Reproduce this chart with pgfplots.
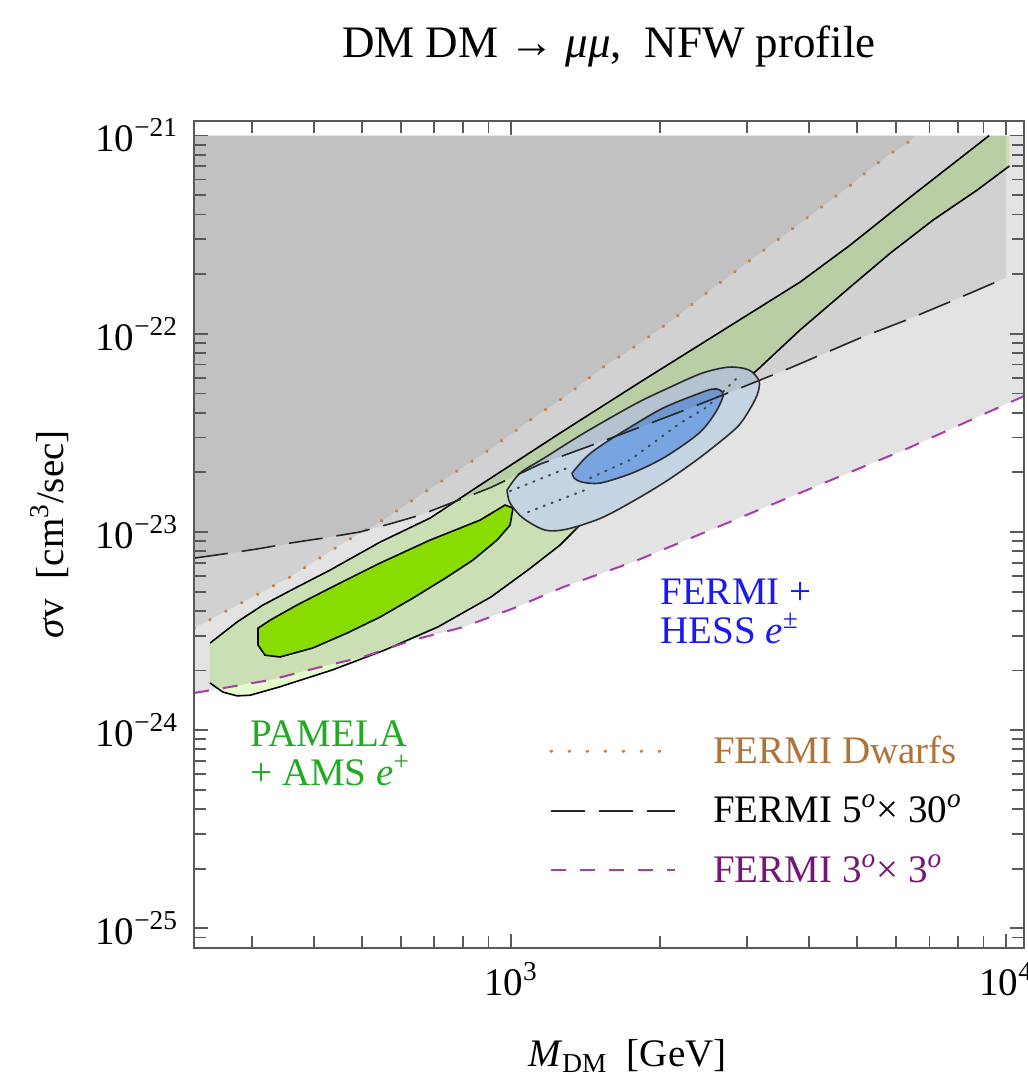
\documentclass[border=0pt]{standalone}
\usepackage{fontspec}
\setmainfont{Liberation Serif}
\usepackage{pgfplots}
\pgfplotsset{compat=1.18}
\definecolor{lgreen}{RGB}{228,252,203}
\definecolor{bgreen}{RGB}{153,248,0}
\definecolor{lblue}{RGB}{222,239,255}
\definecolor{dblue}{RGB}{135,185,253}
\definecolor{dwarf}{RGB}{200,130,70}
\definecolor{dwarftext}{RGB}{175,115,55}
\definecolor{purp}{RGB}{170,60,170}
\definecolor{purptext}{RGB}{120,20,120}
\definecolor{pamela}{RGB}{35,170,35}
\definecolor{hess}{RGB}{25,25,245}
\newcommand\lab{\fontsize{19.5}{19.5}\selectfont}
\begin{document}
\begin{tikzpicture}
\path[use as bounding box] (0,0) rectangle (514pt,539pt);
\node[anchor=base, font=\fontsize{22.5}{26}\selectfont] at (304.5pt,510pt) {DM DM → \textit{μμ},\ \ NFW profile};
\begin{axis}[
  at={(97pt,65pt)}, anchor=south west,
  scale only axis, width=415pt, height=413.65pt,
  xmode=log, ymode=log,
  xmin=228.9, xmax=10866, ymin=7.955e-26, ymax=1.188e-21,
  axis on top,
  xtick={1000,10000}, xticklabels={10\textsuperscript{3},10\textsuperscript{4}},
  minor xtick={300,400,500,600,700,800,900,2000,3000,4000,5000,6000,7000,8000,9000},
  ytick={1e-25,1e-24,1e-23,1e-22,1e-21},
  yticklabels={10\textsuperscript{−25},10\textsuperscript{−24},10\textsuperscript{−23},10\textsuperscript{−22},10\textsuperscript{−21}},
  minor ytick={8e-26,9e-26,2e-25,3e-25,4e-25,5e-25,6e-25,7e-25,8e-25,9e-25,2e-24,3e-24,4e-24,5e-24,6e-24,7e-24,8e-24,9e-24,2e-23,3e-23,4e-23,5e-23,6e-23,7e-23,8e-23,9e-23,2e-22,3e-22,4e-22,5e-22,6e-22,7e-22,8e-22,9e-22},
  tick align=inside,
  major tick length=7pt, minor tick length=6pt,
  every tick/.style={black!65, line width=0.9pt},
  axis line style={black!65, line width=1.2pt},
  ticklabel style={font=\lab},
  xticklabel style={yshift=-3.5pt},
  yticklabel style={xshift=-4.5pt},
  xlabel={\textit{M}\textsubscript{DM}\ \ [GeV]},
  ylabel={\textit{σ}v\ \ [cm\textsuperscript{3}/sec]},
  every axis x label/.style={at={(axis description cs:0.522,-0.130)}, anchor=center, font=\lab},
  every axis y label/.style={at={(axis description cs:-0.1735,0.5)}, rotate=90, anchor=center, font=\lab},
  legend style={at={(rel axis cs:0.4277,0.2575)}, anchor=north west, draw=none, fill=none,
    inner sep=0pt, row sep=11.75pt, font=\lab,
    nodes={inner sep=0pt, text height=14pt, text depth=4pt}},
  legend cell align=left,
  legend image code/.code={\draw[#1] (0pt,1pt) -- (62pt,1pt); \path (0pt,0pt) (80pt,0pt);},
]
% light green band (PAMELA + AMS, outer)
\addplot[fill=lgreen, draw=none, forget plot] coordinates {
(246.6,2.75e-24) (279.5,3.51e-24) (315.5,4.28e-24) (369.6,5.27e-24) (430.9,6.42e-24)
(543.8,8.89e-24) (686.2,1.175e-23) (865.8,1.724e-23) (1256,3.155e-23) (1822,5.70e-23)
(2644,1.02e-22) (3835,1.823e-22) (4840,2.80e-22) (6400,4.89e-22) (9240,1e-21)
(10150,1e-21) (10150,7.02e-22) (8738,5.31e-22) (7120,3.75e-22) (5832,2.55e-22)
(4840,1.72e-22) (3835,1.045e-22) (3141,6.56e-23) (2409,3.67e-23) (1910,2.25e-23)
(1513,1.368e-23) (1256,8.59e-24) (1082,6.43e-24) (911,4.70e-24) (712,3.32e-24)
(556.6,2.54e-24) (434.9,2.01e-24) (339.9,1.65e-24) (297,1.50e-24) (279.5,1.49e-24)
(261.9,1.556e-24) (246.6,1.73e-24)} -- cycle;
\addplot[black, line width=0.8pt, forget plot] coordinates {
(246.6,2.75e-24) (279.5,3.51e-24) (315.5,4.28e-24) (369.6,5.27e-24) (430.9,6.42e-24)
(543.8,8.89e-24) (686.2,1.175e-23) (865.8,1.724e-23) (1256,3.155e-23) (1822,5.70e-23)
(2644,1.02e-22) (3835,1.823e-22) (4840,2.80e-22) (6400,4.89e-22) (9240,1e-21)};
\addplot[black, line width=0.8pt, forget plot] coordinates {
(10150,7.02e-22) (8738,5.31e-22) (7120,3.75e-22) (5832,2.55e-22)
(4840,1.72e-22) (3835,1.045e-22) (3141,6.56e-23) (2409,3.67e-23) (1910,2.25e-23)
(1513,1.368e-23) (1256,8.59e-24) (1082,6.43e-24) (911,4.70e-24) (712,3.32e-24)
(556.6,2.54e-24) (434.9,2.01e-24) (339.9,1.65e-24) (297,1.50e-24) (279.5,1.49e-24)
(261.9,1.556e-24) (246.6,1.73e-24)};
% bright green (inner)
\addplot[fill=bgreen, draw=black, line width=0.8pt, forget plot] coordinates {
(308.3,3.27e-24) (326.1,3.59e-24) (369.6,4.28e-24) (430.9,5.21e-24) (543.8,6.97e-24)
(686.2,9.10e-24) (865.8,1.148e-23) (972.5,1.367e-23) (1009,1.32e-23) (995.4,1.083e-23)
(936.9,9.10e-24) (837.9,7.22e-24) (742.6,5.92e-24) (633.9,4.64e-24) (543.8,3.72e-24)
(466.5,3.09e-24) (398.1,2.60e-24) (341.5,2.34e-24) (318.4,2.39e-24) (308.3,2.69e-24)} -- cycle;
% FERMI + HESS outer ellipse
\addplot[fill=lblue, draw=black!80, line width=0.8pt, smooth, tension=0.5, forget plot] coordinates {
(981.5,1.627e-23) (1042.8,1.982e-23) (1166.3,2.36e-23) (1404,3.155e-23) (1780,4.42e-23)
(2076,5.32e-23) (2432,6.33e-23) (2757,6.79e-23) (3026,6.56e-23) (3170,5.77e-23)
(3141,4.91e-23) (3012,4.03e-23) (2848,3.34e-23) (2432,2.42e-23) (2076,1.83e-23)
(1780,1.449e-23) (1520,1.175e-23) (1298,1.034e-23) (1171.6,1.022e-23) (1057.3,1.175e-23)
(995.4,1.399e-23) (981.5,1.627e-23)};
% inner ellipse
\addplot[fill=dblue, draw=black!80, line width=0.8pt, smooth, tension=0.5, forget plot] coordinates {
(1328,1.982e-23) (1411,2.36e-23) (1513,2.71e-23) (1740,3.38e-23) (2028,4.22e-23)
(2376,4.96e-23) (2548,5.26e-23) (2644,5.20e-23) (2681,4.85e-23) (2583,3.98e-23)
(2398,3.155e-23) (2047,2.39e-23) (1756,1.982e-23) (1513,1.765e-23) (1391,1.786e-23)
(1341,1.87e-23) (1328,1.982e-23)};
% dotted lines inside ellipse
\addplot[black!70, line width=1pt, dash pattern=on 0.6pt off 3.6pt, line cap=round, forget plot] coordinates {(995,1.608e-23) (1298,2.10e-23)};
\addplot[black!70, line width=1pt, dash pattern=on 0.6pt off 3.6pt, line cap=round, forget plot] coordinates {(1082,1.26e-23) (1444,1.665e-23)};
\addplot[black!70, line width=1pt, dash pattern=on 0.6pt off 3.6pt, line cap=round, forget plot] coordinates {(1444,1.87e-23) (1740,2.31e-23) (2195,3.54e-23) (2489,4.27e-23) (2875,6.05e-23)};
% exclusion overlays
\addplot[fill=black, fill opacity=0.11, draw=none, forget plot] coordinates {
(229,1.54e-24) (326,1.79e-24) (411,2.08e-24) (502,2.34e-24) (634,2.85e-24) (800,3.31e-24)
(1014,4.13e-24) (1274,5.27e-24) (1782,7.13e-24) (3350,1.37e-23) (6280,2.62e-23) (10866,4.85e-23)
(10866,1e-21) (229,1e-21)} -- cycle;
\addplot[fill=black, fill opacity=0.08, draw=none, forget plot] coordinates {
(229,7.38e-24) (279.5,7.92e-24) (315.5,8.30e-24) (357.7,8.79e-24) (417,9.31e-24) (495.4,1.0e-23)
(577.6,1.11e-23) (655,1.216e-23) (907,1.67e-23) (1144.5,2.20e-23) (1444,2.72e-23) (1822,3.38e-23)
(2299,4.22e-23) (2901,5.32e-23) (3661,6.72e-23) (5119,9.62e-23) (6281,1.172e-22) (7600,1.43e-22)
(10000,1.92e-22) (10000,1e-21) (229,1e-21)} -- cycle;
\addplot[fill=black, fill opacity=0.08, draw=none, forget plot] coordinates {
(229,3.27e-24) (297,4.63e-24) (357.7,5.92e-24) (457.6,8.79e-24) (551.2,1.148e-23) (655.1,1.535e-23)
(778,2.03e-23) (919.5,2.68e-23) (1093,3.67e-23) (1297.5,4.91e-23) (1534.6,6.79e-23) (1822,8.97e-23)
(2154,1.213e-22) (2523,1.66e-22) (3495,3.04e-22) (4909,5.75e-22) (5313,6.78e-22) (5776,7.98e-22)
(6310,9.16e-22) (6549,1e-21) (229,1e-21)} -- cycle;
% limit lines
\addplot[dwarf, line width=1.9pt, dash pattern=on 0.01pt off 9pt, line cap=round] coordinates {
(229,3.27e-24) (297,4.63e-24) (357.7,5.92e-24) (457.6,8.79e-24) (551.2,1.148e-23) (655.1,1.535e-23)
(778,2.03e-23) (919.5,2.68e-23) (1093,3.67e-23) (1297.5,4.91e-23) (1534.6,6.79e-23) (1822,8.97e-23)
(2154,1.213e-22) (2523,1.66e-22) (3495,3.04e-22) (4909,5.75e-22) (5313,6.78e-22) (5776,7.98e-22)
(6310,9.16e-22) (6549,1e-21)};
\addlegendentry[text=dwarftext]{FERMI Dwarfs}
\addplot[black!85, line width=0.8pt, dash pattern=on 17pt off 7pt] coordinates {
(229,7.38e-24) (279.5,7.92e-24) (315.5,8.30e-24) (357.7,8.79e-24) (417,9.31e-24) (495.4,1.0e-23)
(577.6,1.11e-23) (655,1.216e-23) (907,1.67e-23) (1144.5,2.20e-23) (1444,2.72e-23) (1822,3.38e-23)
(2299,4.22e-23) (2901,5.32e-23) (3661,6.72e-23) (5119,9.62e-23) (6281,1.172e-22) (7600,1.43e-22)
(10000,1.92e-22)};
\addlegendentry[text=black]{FERMI 5\textsuperscript{\textit{o}}× 30\textsuperscript{\textit{o}}}
\addplot[purp, line width=1pt, dash pattern=on 7.5pt off 7pt] coordinates {
(229,1.54e-24) (326,1.79e-24) (411,2.08e-24) (502,2.34e-24) (634,2.85e-24) (800,3.31e-24)
(1014,4.13e-24) (1274,5.27e-24) (1782,7.13e-24) (3350,1.37e-23) (6280,2.62e-23) (10866,4.85e-23)};
\addlegendentry[text=purptext]{FERMI 3\textsuperscript{\textit{o}}× 3\textsuperscript{\textit{o}}}
% region labels
\node[anchor=north west, inner sep=0pt, align=left, font=\lab, text=pamela] at (axis cs:297,1.125e-24) {PAMELA\\+ AMS \textit{e}\textsuperscript{+}};
\node[anchor=north west, inner sep=0pt, align=left, font=\lab, text=hess] at (axis cs:2000,5.85e-24) {FERMI +\\HESS \textit{e}\textsuperscript{±}};
\end{axis}
\end{tikzpicture}
\end{document}
